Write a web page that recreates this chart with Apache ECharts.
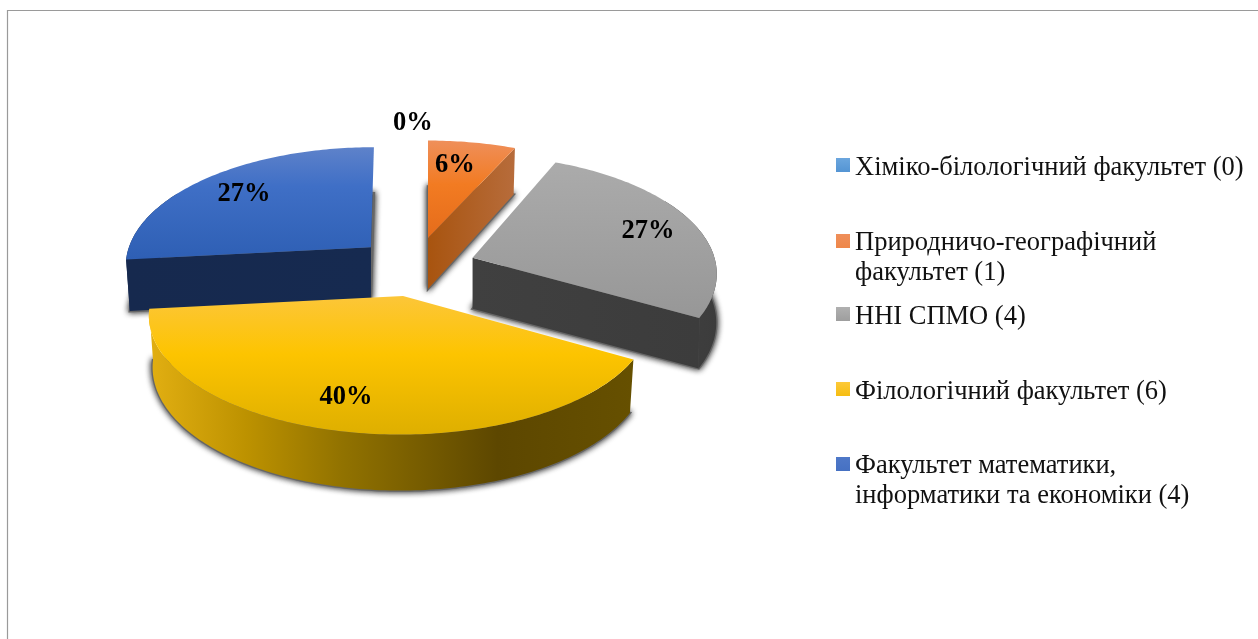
<!DOCTYPE html>
<html><head><meta charset="utf-8">
<style>html,body{margin:0;padding:0;background:#fff}#c{width:1258px;height:639px}</style>
<script src="https://cdn.jsdelivr.net/npm/echarts@6/dist/echarts.min.js"></script>
</head><body><div id="c"></div>
<script>
const categories = ['Хіміко-білологічний факультет (0)','Природничо-географічний\nфакультет (1)','ННІ СПМО (4)','Філологічний факультет (6)','Факультет математики,\nінформатики та економіки (4)'];
const values = [0, 1, 4, 6, 4];
const labelTexts = ['0%', '6%', '27%', '40%', '27%'];

// Layout and style, kept apart from the data
const labelAngle = [359.4, 9.7, 71.4, 195.1, 312];
const labelRadius = [1.19, 0.73, 0.786, 0.784, 0.753];
const paintOrder = [1, 3, 4, 5, 2];
const legendTop = [148, 223, 297, 372, 446];
const rimNudge = [[0, 0], [0, 2.5], [-4, -3], [-3, 0.5], [3, 0]];
const rimScale = [1, 1, 1, 1.012, 1];
const lowerShrink = [1, 0.985, 0.998, 0.985, 0.985];
const lowerLift = [0, 0, 3, 0, 0];
const C = {x: 415.5, y: 267, rx: 245, ry: 116, k: 0.16, ex: 60, ey: 29.6};
const G = (x0, y0, x1, y1, s) => new echarts.graphic.LinearGradient(x0, y0, x1, y1, s.map(([o, c]) => ({offset: o, color: c})));
const V = s => G(0, 0, 0, 1, s);
const H = s => G(0, 0, 1, 0, s);
const topFill = [
  V([[0,'#7fb1e0'],[1,'#4a8fd0']]),
  V([[0,'#ef8f5a'],[0.45,'#f27b22'],[1,'#e56c1b']]),
  V([[0,'#ababab'],[1,'#979797']]),
  V([[0,'#fcc639'],[0.42,'#fdc400'],[1,'#deaf00']]),
  V([[0,'#5e82ca'],[0.35,'#3f6fc6'],[1,'#2e5fb4']])
];
const wallFill = [
  V([[0,'#2f5f8f'],[1,'#2f5f8f']]),
  H([[0,'#a8540f'],[1,'#b76c3b']]),
  H([[0,'#404040'],[1,'#3c3c3c']]),
  H([[0,'#e2af12'],[0.2,'#bd9200'],[0.4,'#917200'],[0.72,'#5d4700'],[1,'#665000']]),
  H([[0,'#16294e'],[1,'#162a50']])
];
const legendFill = [
  V([[0,'#6ba6de'],[1,'#4a8dcf']]),
  V([[0,'#ef8f5a'],[1,'#ed7420']]),
  V([[0,'#b0b0b0'],[1,'#969696']]),
  V([[0,'#fdc939'],[1,'#f2b800']]),
  V([[0,'#4f78c8'],[1,'#2f5fb5']])
];
const total = values.reduce((a, b) => a + b, 0);
const startAngles = values.map((_, i) => values.slice(0, i).reduce((a, b) => a + b, 0) / total * 360);
const sweep = i => values[i] / total * 360;
const rad = d => d * Math.PI / 180;

// Perspective projection of a disc point: angle clockwise from top, r in radii
function project(deg, r, ox, oy, lower, i) {
  const u = Math.sin(rad(deg)) * r, v = -Math.cos(rad(deg)) * r;
  const s = 1 / (1 - C.k * v);
  let x = C.rx * u * s, y = C.ry * v * s;
  if (lower) { x = x * lowerShrink[i]; y += 51 + 5 * v - lowerLift[i] * r; }
  return [C.x + ox + x, C.y + oy + y];
}
function explode(i) {
  const mid = startAngles[i] + sweep(i) / 2;
  return [C.ex * Math.sin(rad(mid)), -C.ey * Math.cos(rad(mid))];
}
function rim(i, lower, ox, oy, from, to) {
  const a = from === undefined ? startAngles[i] : from, b = to === undefined ? startAngles[i] + sweep(i) : to;
  const n = Math.max(1, Math.ceil(b - a)), p = [];
  const ax = C.x + ox, [nx, ny] = rimNudge[i];
  for (let j = 0; j <= n; j++) {
    const q = project(a + (b - a) * j / n, 1, ox, oy, lower, i);
    p.push([ax + (q[0] - ax) * rimScale[i] + nx, q[1] + ny]);
  }
  return p;
}
function slice(i) {
  if (!values[i]) return {type: 'group', children: []};
  const [ox, oy] = explode(i);
  const a = startAngles[i], b = a + sweep(i);
  const top = rim(i, false, ox, oy), low = rim(i, true, ox, oy);
  const apexT = project(0, 0, ox, oy, false, i), apexB = project(0, 0, ox, oy, true, i);
  const poly = (points, style) => ({type: 'polygon', shape: {points}, style, silent: true});
  const wall = wallFill[i];
  const kids = [poly([apexB].concat(low), {fill: '#666', stroke: '#666', lineWidth: 2.5, shadowBlur: 6, shadowColor: 'rgba(0,0,0,0.9)'})];
  // only the faces that turn towards the viewer get a wall
  const from = Math.max(a, 60), to = Math.min(b, 300);
  if (to > from) kids.push(poly(rim(i, false, ox, oy, from, to).concat(rim(i, true, ox, oy, from, to).reverse()), {fill: wall}));
  if (a > 180) kids.push(poly([apexT, top[0], low[0], apexB], {fill: wall}));
  if (b < 180) kids.push(poly([apexT, top[top.length - 1], low[low.length - 1], apexB], {fill: wall}));
  kids.push(poly([apexT].concat(top), {fill: topFill[i]}));
  return {type: 'group', children: kids};
}
function label(i) {
  const [ox, oy] = explode(i);
  const [x, y] = project(labelAngle[i], labelRadius[i], ox, oy, false, i);
  return {type: 'text', silent: true, style: {text: labelTexts[i], x, y: y + 1.5, align: 'center', verticalAlign: 'middle',
    fontFamily: '"Liberation Serif"', fontWeight: 'bold', fontSize: 26.5, fill: '#000'}};
}
const chart = echarts.init(document.getElementById('c'), null, {renderer: 'canvas'});
chart.setOption({
  animation: false,
  backgroundColor: '#fff',
  graphic: [{type: 'polyline', silent: true, shape: {points: [[7.5, 640], [7.5, 10.5], [1258, 10.5]]}, style: {fill: 'none', stroke: '#9a9a9a', lineWidth: 1.2}}],
  legend: categories.map((name, i) => {
    const two = name.indexOf('\n') >= 0;
    return {
      left: 831, top: legendTop[i], orient: 'vertical', selectedMode: false, itemWidth: 14, itemHeight: two ? 48 : 20,
      data: [{name, icon: two ? 'path://M0 0H14V14H0ZM0 48L0 48Z' : 'path://M0 0H14V14H0ZM0 20L0 20Z', itemStyle: {color: legendFill[i], borderWidth: 0}}],
      textStyle: {fontFamily: '"Liberation Serif"', fontSize: 26.5, lineHeight: 30, color: '#111'}
    };
  }),
  series: categories.map((name, i) => ({
    type: 'custom', name, coordinateSystem: 'none', z: paintOrder[i], silent: true,
    itemStyle: {color: legendFill[i]},
    data: [values[i]], renderItem: () => slice(i)
  })).concat([{
    type: 'custom', name: 'labels', coordinateSystem: 'none', z: 20, silent: true,
    data: labelTexts.map((_, i) => i), renderItem: (p) => label(p.dataIndex)
  }])
});
</script></body></html>
